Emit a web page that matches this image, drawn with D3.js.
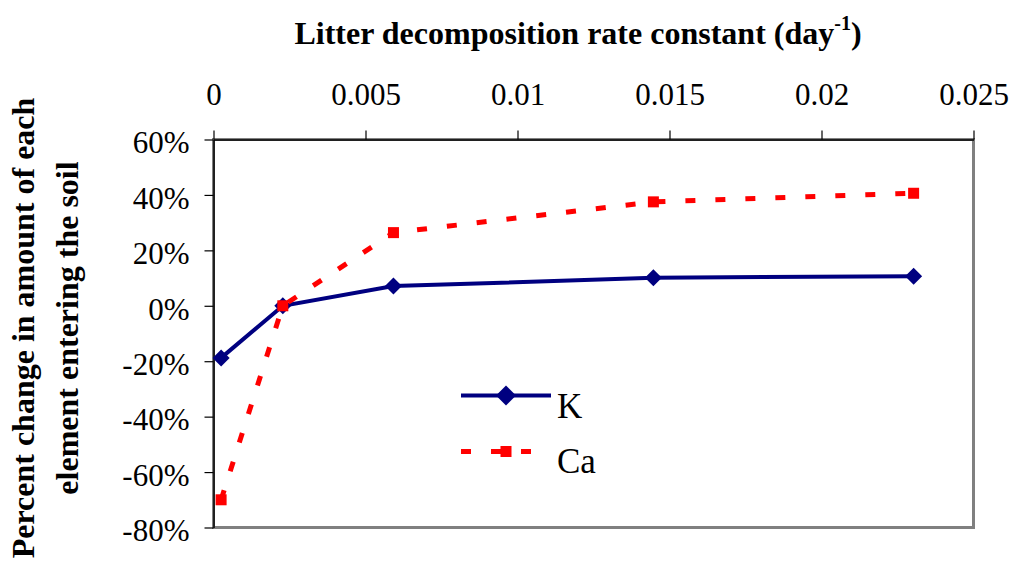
<!DOCTYPE html>
<html>
<head>
<meta charset="utf-8">
<script src="https://cdn.jsdelivr.net/npm/d3@7/dist/d3.min.js"></script>
<style>
  html, body { margin: 0; padding: 0; background: #fff; }
  svg { display: block; }
  text { font-family: "Liberation Serif", "Times New Roman", serif; fill: #000; }
</style>
</head>
<body>
<script>
// Decomposition rate constants (day^-1) for each litter type
const rateConstant = [0.00025, 0.00228, 0.00592, 0.01447, 0.02303];
// Percent change in the amount of each element entering the soil
const kChange  = [-0.188, 0.0, 0.071, 0.101, 0.107];
const caChange = [-0.70, 0.0, 0.264, 0.375, 0.406];
// Axis ticks
const xTicks = [0, 0.005, 0.01, 0.015, 0.02, 0.025];
const yTicks = [-0.8, -0.6, -0.4, -0.2, 0, 0.2, 0.4, 0.6];
const seriesNames = ["K", "Ca"];

const W = 1015, H = 565;
const plot = { left: 213.5, right: 973.5, top: 139.5, bottom: 527.5 };
const serif = '"Liberation Serif", "Times New Roman", serif';

const svg = d3.select("body").append("svg")
  .attr("width", W).attr("height", H);

const x = d3.scaleLinear().domain([0, 0.025]).range([plot.left, plot.right]);
const y = d3.scaleLinear().domain([-0.8, 0.6]).range([plot.bottom, plot.top]);

// Plot area frame (grey), axes drawn over it in black
svg.append("rect")
  .attr("x", plot.left).attr("y", plot.top)
  .attr("width", plot.right - plot.left).attr("height", plot.bottom - plot.top)
  .attr("fill", "none").attr("stroke", "#808080").attr("stroke-width", 3);

const xAxis = d3.axisTop(x)
  .tickValues(xTicks)
  .tickSize(9).tickSizeOuter(0)
  .tickPadding(26)
  .tickFormat(d => String(+d.toFixed(3)));

const gx = svg.append("g")
  .attr("transform", `translate(0,${plot.top})`)
  .call(xAxis);
gx.select(".domain").attr("stroke", "#000").attr("stroke-width", 1.5);
gx.selectAll(".tick line").attr("stroke", "#000").attr("stroke-width", 1.2);
gx.selectAll(".tick text")
  .style("font-size", "31px").style("font-family", serif).style("fill", "#000");

const yAxis = d3.axisLeft(y)
  .tickValues(yTicks)
  .tickSize(9).tickSizeOuter(0)
  .tickPadding(15)
  .tickFormat(d => Math.round(d * 100) + "%");

const gy = svg.append("g")
  .attr("transform", `translate(${plot.left},0)`)
  .call(yAxis);
gy.select(".domain").attr("stroke", "#000").attr("stroke-width", 1.5);
gy.selectAll(".tick line").attr("stroke", "#000").attr("stroke-width", 1.2);
gy.selectAll(".tick text")
  .style("font-size", "31px").style("font-family", serif).style("fill", "#000")
  .attr("dy", "0.43em");

// Series
const line = d3.line().x(d => x(d[0])).y(d => y(d[1]));
const kPts  = rateConstant.map((r, i) => [r, kChange[i]]);
const caPts = rateConstant.map((r, i) => [r, caChange[i]]);

const navy = "#000080", red = "#ff0000";
const diamond = s => `M0,${-s}L${s},0L0,${s}L${-s},0Z`;

svg.append("path").datum(kPts)
  .attr("d", line).attr("fill", "none")
  .attr("stroke", navy).attr("stroke-width", 4);
svg.append("g").selectAll("path").data(kPts).join("path")
  .attr("transform", d => `translate(${x(d[0])},${y(d[1])})`)
  .attr("d", diamond(8.5)).attr("fill", navy);

svg.append("path").datum(caPts)
  .attr("d", line).attr("fill", "none")
  .attr("stroke", red).attr("stroke-width", 5)
  .attr("stroke-dasharray", "10,20");
svg.append("g").selectAll("rect").data(caPts).join("rect")
  .attr("x", d => x(d[0]) - 5.5).attr("y", d => y(d[1]) - 5.5)
  .attr("width", 11).attr("height", 11).attr("fill", red);

// Legend
const legend = svg.append("g");
const lx0 = 461, lx1 = 551, lxm = 506;
const kY = 395.5, caY = 451.5;
legend.append("line").attr("x1", lx0).attr("x2", lx1).attr("y1", kY).attr("y2", kY)
  .attr("stroke", navy).attr("stroke-width", 4);
legend.append("path").attr("transform", `translate(${lxm},${kY})`)
  .attr("d", diamond(10)).attr("fill", navy);
legend.append("text").attr("x", 557).attr("y", 418)
  .attr("font-size", 35).text(seriesNames[0]);

legend.append("line").attr("x1", lx0).attr("x2", lx1).attr("y1", caY).attr("y2", caY)
  .attr("stroke", red).attr("stroke-width", 5).attr("stroke-dasharray", "10,20");
legend.append("rect").attr("x", lxm - 5.5).attr("y", caY - 5.5)
  .attr("width", 11).attr("height", 11).attr("fill", red);
legend.append("text").attr("x", 557).attr("y", 473)
  .attr("font-size", 35).text(seriesNames[1]);

// Axis titles
const title = svg.append("text")
  .attr("x", 578).attr("y", 43.5)
  .attr("text-anchor", "middle")
  .attr("font-size", 32).attr("font-weight", "bold");
title.append("tspan").text("Litter decomposition rate constant (day");
title.append("tspan").attr("font-size", 20).attr("dy", -14).text("-1");
title.append("tspan").attr("dy", 14).text(")");

const ylab = svg.append("g").attr("transform", "translate(0,328) rotate(-90)");
ylab.append("text").attr("x", 0).attr("y", 34)
  .attr("text-anchor", "middle").attr("font-size", 32).attr("font-weight", "bold")
  .text("Percent change in amount of each");
ylab.append("text").attr("x", 0).attr("y", 78)
  .attr("text-anchor", "middle").attr("font-size", 32).attr("font-weight", "bold")
  .text("element entering the soil");
</script>
</body>
</html>
